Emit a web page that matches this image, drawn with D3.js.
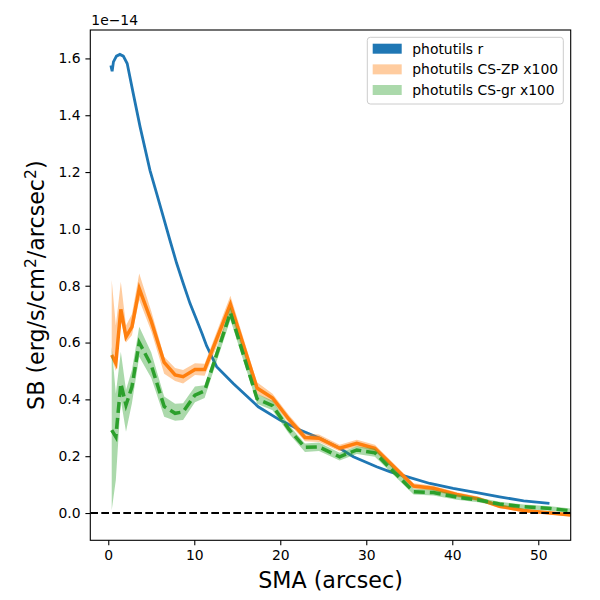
<!DOCTYPE html>
<html>
<head>
<meta charset="utf-8">
<script src="https://cdn.jsdelivr.net/npm/d3@7"></script>
<style>
  body { margin: 0; background: #fff; }
  text { font-family: "DejaVu Sans", sans-serif; fill: #000; }
</style>
</head>
<body>
<div class="container"></div>
<script>
// values in units of 1e-14 erg/s/cm2/arcsec2
const smaR = [0.3, 0.45, 0.6, 0.95, 1.35, 1.75, 2.2, 2.9, 3.7, 4.85, 5.63, 6.4, 7.17, 7.95, 8.72, 9.5, 10.28, 10.9, 11.44, 12.6, 14.53, 17.44, 19.97, 22.3, 24.6, 26.9, 28.5, 31.2, 32.8, 34.7, 37.4, 40.1, 43.0, 45.5, 48.3, 51.3]
const sbR = [1.575, 1.555, 1.588, 1.608, 1.614, 1.608, 1.582, 1.477, 1.359, 1.206, 1.124, 1.042, 0.96, 0.879, 0.808, 0.738, 0.679, 0.632, 0.588, 0.515, 0.456, 0.374, 0.327, 0.292, 0.263, 0.228, 0.198, 0.163, 0.145, 0.128, 0.104, 0.087, 0.071, 0.057, 0.043, 0.034]

const smaCS = [0.4, 0.88, 1.46, 2.06, 2.75, 3.6, 5.0, 6.5, 7.77, 8.7, 10.08, 11.2, 14.2, 17.3, 19.1, 21.0, 22.87, 24.5, 26.9, 28.9, 31.0, 35.5, 37.8, 40.5, 43.0, 45.5, 48.3, 51.4, 53.8]

const sbZP = [0.556, 0.527, 0.717, 0.62, 0.655, 0.79, 0.675, 0.53, 0.486, 0.48, 0.505, 0.505, 0.735, 0.44, 0.405, 0.33, 0.266, 0.263, 0.228, 0.245, 0.228, 0.095, 0.087, 0.065, 0.05, 0.024, 0.009, 0.0, -0.007]
const sbZPlo = [0.545, 0.50, 0.68, 0.60, 0.626, 0.75, 0.64, 0.49, 0.465, 0.456, 0.486, 0.483, 0.70, 0.42, 0.39, 0.315, 0.253, 0.25, 0.217, 0.233, 0.217, 0.085, 0.078, 0.056, 0.042, 0.017, 0.003, -0.005, -0.012]
const sbZPhi = [0.82, 0.66, 0.814, 0.66, 0.70, 0.843, 0.71, 0.55, 0.51, 0.503, 0.527, 0.525, 0.765, 0.46, 0.42, 0.345, 0.28, 0.276, 0.24, 0.258, 0.24, 0.105, 0.096, 0.073, 0.058, 0.031, 0.015, 0.006, -0.002]

const sbGR = [0.292, 0.268, 0.456, 0.38, 0.444, 0.60, 0.52, 0.375, 0.351, 0.356, 0.415, 0.43, 0.705, 0.402, 0.378, 0.295, 0.231, 0.233, 0.198, 0.222, 0.212, 0.075, 0.072, 0.056, 0.046, 0.032, 0.022, 0.016, 0.008]
const sbGRlo = [0.01, 0.116, 0.398, 0.286, 0.386, 0.55, 0.475, 0.339, 0.325, 0.327, 0.39, 0.405, 0.68, 0.385, 0.362, 0.28, 0.215, 0.218, 0.185, 0.208, 0.198, 0.065, 0.062, 0.047, 0.038, 0.024, 0.014, 0.008, 0.0]
const sbGRhi = [0.585, 0.42, 0.568, 0.433, 0.503, 0.656, 0.565, 0.41, 0.385, 0.386, 0.445, 0.45, 0.725, 0.42, 0.395, 0.31, 0.245, 0.248, 0.212, 0.235, 0.226, 0.085, 0.082, 0.065, 0.055, 0.04, 0.03, 0.024, 0.016]

const xTicks = [0, 10, 20, 30, 40, 50]
const yTicks = [0.0, 0.2, 0.4, 0.6, 0.8, 1.0, 1.2, 1.4, 1.6]
const legendLabels = ["photutils r", "photutils CS-ZP x100", "photutils CS-gr x100"]

const width = 600
const height = 600
const mLeft = 90.3, mRight = 570.7, mTop = 30, mBottom = 540.3

const x = d3.scaleLinear().domain([-2.09, 53.77]).range([mLeft, mRight])
const y = d3.scaleLinear().domain([-0.096, 1.70]).range([mBottom, mTop])

const svg = d3.select(".container")
    .append("svg")
    .attr("width", width)
    .attr("height", height)

svg.append("defs").append("clipPath")
    .attr("id", "clip")
    .append("rect")
    .attr("x", mLeft)
    .attr("y", mTop)
    .attr("width", mRight - mLeft)
    .attr("height", mBottom - mTop)

const plot = svg.append("g").attr("clip-path", "url(#clip)")

const line = d3.line().x(d => x(d[0])).y(d => y(d[1]))
const area = d3.area().x(d => x(d[0])).y0(d => y(d[1])).y1(d => y(d[2]))

plot.append("path")
    .datum(smaR.map((s, i) => [s, sbR[i]]))
    .attr("d", line)
    .attr("fill", "none")
    .attr("stroke", "#1f77b4")
    .attr("stroke-width", 2.8)

plot.append("path")
    .datum(smaCS.map((s, i) => [s, sbZPlo[i], sbZPhi[i]]))
    .attr("d", area)
    .attr("fill", "#ff7f0e")
    .attr("fill-opacity", 0.4)

plot.append("path")
    .datum(smaCS.map((s, i) => [s, sbZP[i]]))
    .attr("d", line)
    .attr("fill", "none")
    .attr("stroke", "#ff7f0e")
    .attr("stroke-width", 3.5)

plot.append("path")
    .datum(smaCS.map((s, i) => [s, sbGRlo[i], sbGRhi[i]]))
    .attr("d", area)
    .attr("fill", "#2ca02c")
    .attr("fill-opacity", 0.4)

plot.append("path")
    .datum(smaCS.map((s, i) => [s, sbGR[i]]))
    .attr("d", line)
    .attr("fill", "none")
    .attr("stroke", "#2ca02c")
    .attr("stroke-width", 3.5)
    .attr("stroke-dasharray", "11,5")

plot.append("line")
    .attr("x1", mLeft)
    .attr("x2", mRight)
    .attr("y1", y(0))
    .attr("y2", y(0))
    .attr("stroke", "#000")
    .attr("stroke-width", 2.1)
    .attr("stroke-dasharray", "7.7,3.3")

// axes
const xAxis = svg.append("g")
    .attr("transform", `translate(0,${mBottom})`)
    .call(d3.axisBottom(x).tickValues(xTicks).tickSize(4.9).tickPadding(4.9).tickFormat(d3.format("d")))
const yAxis = svg.append("g")
    .attr("transform", `translate(${mLeft},0)`)
    .call(d3.axisLeft(y).tickValues(yTicks).tickSize(4.9).tickPadding(4.9).tickFormat(d3.format(".1f")))

for (const ax of [xAxis, yAxis]) {
    ax.select(".domain").remove()
    ax.selectAll("line").attr("stroke", "#000").attr("stroke-width", 1.1)
    ax.selectAll("text").attr("font-size", 13.9).attr("font-family", "DejaVu Sans").attr("fill", "#000")
}

svg.append("rect")
    .attr("x", mLeft)
    .attr("y", mTop)
    .attr("width", mRight - mLeft)
    .attr("height", mBottom - mTop)
    .attr("fill", "none")
    .attr("stroke", "#000")
    .attr("stroke-width", 1.1)

svg.append("text")
    .attr("x", mLeft + 1)
    .attr("y", mTop - 5)
    .attr("font-size", 13.9)
    .text("1e\u221214")

svg.append("text")
    .attr("x", (mLeft + mRight) / 2)
    .attr("y", 588)
    .attr("text-anchor", "middle")
    .attr("font-size", 22.2)
    .text("SMA (arcsec)")

const yLabel = svg.append("text")
    .attr("transform", `translate(44,${(mTop + mBottom) / 2}) rotate(-90)`)
    .attr("text-anchor", "middle")
    .attr("font-size", 22.2)
yLabel.append("tspan").text("SB (erg/s/cm")
yLabel.append("tspan").attr("font-size", 15.5).attr("dy", -8).text("2")
yLabel.append("tspan").attr("dy", 8).text("/arcsec")
yLabel.append("tspan").attr("font-size", 15.5).attr("dy", -8).text("2")
yLabel.append("tspan").attr("dy", 8).text(")")

// legend
const legend = svg.append("g")
legend.append("rect")
    .attr("x", 367.3)
    .attr("y", 37.3)
    .attr("width", 196)
    .attr("height", 66.7)
    .attr("rx", 3)
    .attr("fill", "#fff")
    .attr("fill-opacity", 0.8)
    .attr("stroke", "#ccc")
    .attr("stroke-width", 1)

const legendFill = [["#1f77b4", 1], ["#ff7f0e", 0.4], ["#2ca02c", 0.4]]
legend.selectAll("g.item")
    .data(legendLabels)
    .join("g")
    .attr("class", "item")
    .attr("transform", (d, i) => `translate(0,${48.7 + i * 20.65})`)
    .each(function (d, i) {
        const g = d3.select(this)
        g.append("rect")
            .attr("x", 372.7)
            .attr("y", -5)
            .attr("width", 29)
            .attr("height", 10)
            .attr("fill", legendFill[i][0])
            .attr("fill-opacity", legendFill[i][1])
        g.append("text")
            .attr("x", 412.3)
            .attr("y", 5)
            .attr("font-size", 13.9)
            .text(d)
    })
</script>
</body>
</html>
